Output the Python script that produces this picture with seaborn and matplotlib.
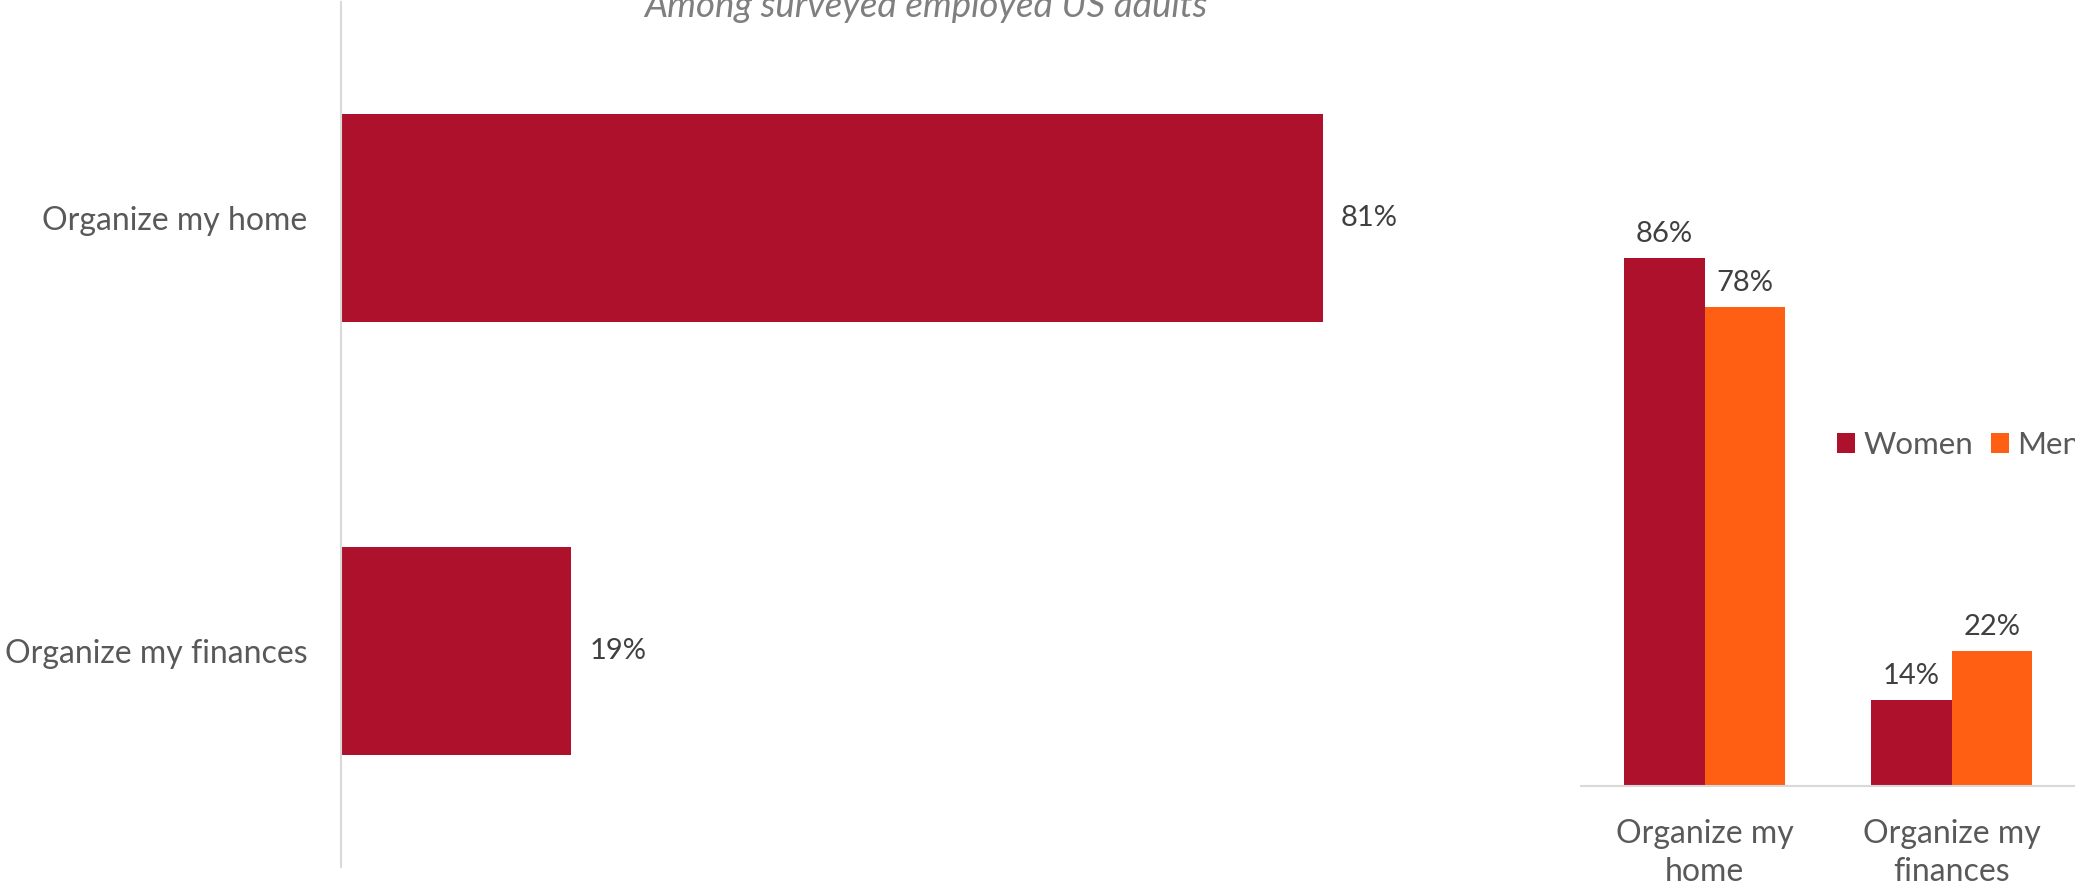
import matplotlib
matplotlib.use("Agg")
import matplotlib.pyplot as plt
import seaborn as sns
import pandas as pd

# Share of employed adults who would use AI help for each task
tasks = ["Organize my home", "Organize my finances"]
overall = [81, 19]

# Same tasks split by gender
tasks_wrapped = ["Organize my\nhome", "Organize my\nfinances"]
groups = ["Women", "Men"]
women = [86, 14]
men = [78, 22]

subtitle = "Among surveyed employed US adults"

WOMEN_RED = "#AE112C"
MEN_ORANGE = "#FE5F13"
LABEL_GREY = "#595959"
VALUE_GREY = "#404040"
AXIS_GREY = "#D9D9D9"
TITLE_GREY = "#7F7F7F"

sns.set_theme(style="white")
plt.rcParams["font.family"] = ["Lato", "DejaVu Sans"]

W, H = 2075, 889
fig = plt.figure(figsize=(W / 100, H / 100), dpi=100)


def px_axes(left, top, right, bottom):
    """Add axes given pixel edges measured from the top-left corner."""
    return fig.add_axes([left / W, 1 - bottom / H, (right - left) / W, (bottom - top) / H])


# ---- Left: overall horizontal bars ----
ax1 = px_axes(341, 2, 1553, 867)
overall_df = pd.DataFrame({"task": tasks, "share": overall})
sns.barplot(data=overall_df, x="share", y="task", orient="h", order=tasks,
            color=WOMEN_RED, saturation=1, width=0.48, linewidth=0, ax=ax1)
ax1.set_xlim(0, 100)
ax1.set_ylim(1.5, -0.5)
ax1.set_xlabel("")
ax1.set_ylabel("")
ax1.set_xticks([])
ax1.tick_params(axis="y", length=0, pad=24, labelsize=23, labelcolor=LABEL_GREY)
for side in ["top", "right", "bottom"]:
    ax1.spines[side].set_visible(False)
ax1.spines["left"].set_color(AXIS_GREY)
ax1.spines["left"].set_linewidth(1.5)
ax1.bar_label(ax1.containers[0], labels=[f"{v}%" for v in overall],
              padding=13, fontsize=21, color=VALUE_GREY)

fig.text(926 / W, 1 - 17 / H, subtitle, ha="center", va="baseline",
         fontsize=26.4, style="italic", color=TITLE_GREY)

# ---- Right: women vs men grouped columns ----
ax2 = px_axes(1581, 172, 2075, 786)
gender_df = pd.DataFrame({
    "task": tasks_wrapped * 2,
    "group": [groups[0]] * 2 + [groups[1]] * 2,
    "share": women + men,
})
sns.barplot(data=gender_df, x="task", y="share", hue="group", order=tasks_wrapped,
            hue_order=groups, palette=[WOMEN_RED, MEN_ORANGE], saturation=1,
            width=0.65, linewidth=0, ax=ax2)
ax2.set_xlim(-0.5, 1.5)
ax2.set_ylim(0, 100)
ax2.set_xlabel("")
ax2.set_ylabel("")
ax2.set_yticks([])
ax2.tick_params(axis="x", length=0, pad=24, labelsize=23, labelcolor=LABEL_GREY)
for lbl in ax2.get_xticklabels():
    lbl.set_linespacing(1.32)
for side in ["top", "right", "left"]:
    ax2.spines[side].set_visible(False)
ax2.spines["bottom"].set_color(AXIS_GREY)
ax2.spines["bottom"].set_linewidth(1.5)
for container, vals in zip(ax2.containers, [women, men]):
    ax2.bar_label(container, labels=[f"{v}%" for v in vals],
                  padding=8, fontsize=21, color=VALUE_GREY)

handles, labels = ax2.get_legend_handles_labels()
ax2.legend(handles, labels, loc="center left",
           bbox_to_anchor=(1837 / W, 1 - 445 / H), bbox_transform=fig.transFigure,
           ncol=2, frameon=False, fontsize=22.5, labelcolor=LABEL_GREY,
           handlelength=0.58, handleheight=0.58, handletextpad=0.26,
           columnspacing=0.58, borderpad=0, borderaxespad=0)

fig.savefig("out.png", dpi=100)
